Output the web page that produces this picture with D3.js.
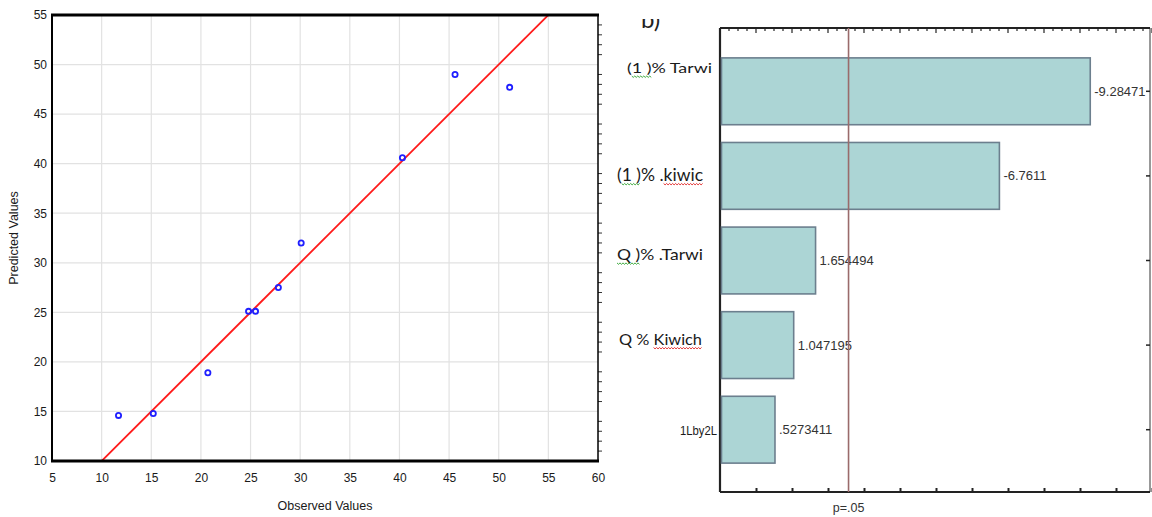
<!DOCTYPE html>
<html>
<head>
<meta charset="utf-8">
<script src="https://cdn.jsdelivr.net/npm/d3@7"></script>
<style>
  html, body { margin: 0; padding: 0; background: #fff; }
  svg { display: block; }
</style>
</head>
<body>
<svg id="chart" width="1152" height="517"></svg>
<script>
// ---------- data: left panel (observed vs predicted) ----------
const observedValues  = [11.7, 15.2, 20.7, 24.8, 25.5, 27.8, 30.1, 40.3, 45.6, 51.1];
const predictedValues = [14.6, 14.8, 18.9, 25.1, 25.1, 27.5, 32.0, 40.6, 49.0, 47.7];
const xTickValues = [5, 10, 15, 20, 25, 30, 35, 40, 45, 50, 55, 60];
const yTickValues = [10, 15, 20, 25, 30, 35, 40, 45, 50, 55];
const identityLine = [5, 60];   // predicted = observed

// ---------- data: right panel (Pareto of standardized effects) ----------
const effectNames  = ["(1 )% Tarwi", "(1 )% .kiwic", "Q )% .Tarwi", "Q % Kiwich", "1Lby2L"];
const effectValues = [-9.28471, -6.7611, 1.654494, 1.047195, 0.5273411];
const effectText   = ["-9.28471", "-6.7611", "1.654494", "1.047195", ".5273411"];
const pCritical = 2.5706;
const pLabel = "p=.05";
const effectTicks = [0, 1, 2, 3, 4, 5, 6, 7, 8, 9, 10, 11];

const svg = d3.select("#chart");

// ================= LEFT PANEL =================
const L = { left: 52, right: 598, top: 15, bottom: 461 };
const x = d3.scaleLinear().domain([5, 60]).range([L.left, L.right]);
const y = d3.scaleLinear().domain([10, 55]).range([L.bottom, L.top]);

const gl = svg.append("g");
// grid
gl.append("g").selectAll("line").data(xTickValues.slice(1, -1)).join("line")
  .attr("x1", d => x(d)).attr("x2", d => x(d))
  .attr("y1", L.top).attr("y2", L.bottom)
  .attr("stroke", "#e2e2e2").attr("stroke-width", 1.2);
gl.append("g").selectAll("line").data(yTickValues.slice(1, -1)).join("line")
  .attr("y1", d => y(d)).attr("y2", d => y(d))
  .attr("x1", L.left).attr("x2", L.right)
  .attr("stroke", "#e2e2e2").attr("stroke-width", 1.2);

// right-side minor ticks
const minorY = d3.range(11, 55).filter(v => v % 5 !== 0);
gl.append("g").selectAll("line").data(minorY).join("line")
  .attr("x1", L.right).attr("x2", L.right + 4)
  .attr("y1", d => y(d)).attr("y2", d => y(d))
  .attr("stroke", "#333").attr("stroke-width", 1);

// axes via d3
const xAxis = d3.axisBottom(x).tickValues(xTickValues).tickSize(0).tickPadding(12);
const gx = gl.append("g").attr("transform", `translate(0,${L.bottom})`).call(xAxis);
gx.select(".domain").remove();
gx.selectAll("text").attr("font-family", "Liberation Sans, Arial, sans-serif")
  .attr("font-size", 12).attr("fill", "#1a1a1a");

const yAxis = d3.axisLeft(y).tickValues(yTickValues).tickSize(0).tickPadding(5);
const gy = gl.append("g").attr("transform", `translate(${L.left},0)`).call(yAxis);
gy.select(".domain").remove();
gy.selectAll("text").attr("font-family", "Liberation Sans, Arial, sans-serif")
  .attr("font-size", 12).attr("fill", "#1a1a1a");

// clip for line
svg.append("clipPath").attr("id", "clipL").append("rect")
  .attr("x", L.left).attr("y", L.top).attr("width", L.right - L.left).attr("height", L.bottom - L.top);

gl.append("path")
  .datum(identityLine)
  .attr("clip-path", "url(#clipL)")
  .attr("d", d3.line().x(d => x(d)).y(d => y(d)))
  .attr("stroke", "#ff1a1a").attr("stroke-width", 1.8).attr("fill", "none");

// points
gl.append("g").selectAll("circle").data(observedValues).join("circle")
  .attr("cx", d => x(d)).attr("cy", (d, i) => y(predictedValues[i]))
  .attr("r", 2.6).attr("fill", "none").attr("stroke", "#1f1fff").attr("stroke-width", 1.8);

// frame
gl.append("line").attr("x1", L.left - 1).attr("x2", L.right + 1).attr("y1", L.top).attr("y2", L.top)
  .attr("stroke", "#000").attr("stroke-width", 3);
gl.append("line").attr("x1", L.left - 1).attr("x2", L.right + 1).attr("y1", L.bottom).attr("y2", L.bottom)
  .attr("stroke", "#000").attr("stroke-width", 3);
gl.append("line").attr("x1", L.left).attr("x2", L.left).attr("y1", L.top).attr("y2", L.bottom)
  .attr("stroke", "#000").attr("stroke-width", 2);
gl.append("line").attr("x1", L.right).attr("x2", L.right).attr("y1", L.top).attr("y2", L.bottom)
  .attr("stroke", "#000").attr("stroke-width", 1.5);

// titles
gl.append("text").attr("x", (L.left + L.right) / 2).attr("y", 510)
  .attr("text-anchor", "middle").attr("font-family", "Liberation Sans, Arial, sans-serif")
  .attr("font-size", 12.5).attr("fill", "#1a1a1a").text("Observed Values");
gl.append("text").attr("transform", `translate(18,${(L.top + L.bottom) / 2}) rotate(-90)`)
  .attr("text-anchor", "middle").attr("font-family", "Liberation Sans, Arial, sans-serif")
  .attr("font-size", 12.5).attr("fill", "#1a1a1a").text("Predicted Values");

// ================= RIGHT PANEL =================
const R = { left: 720, right: 1150, top: 28, bottom: 492 };
const xr = d3.scaleLinear().domain([-1, 11]).range([720, 1152]);
const yr = d3.scaleBand().domain(effectNames).range([49, 472]).paddingInner(0.21).paddingOuter(0.105);

const gr = svg.append("g");

// "b)" fragment (only its lower part is visible)
svg.append("clipPath").attr("id", "clipB").append("rect")
  .attr("x", 620).attr("y", 19).attr("width", 80).attr("height", 20);
gr.append("text").attr("clip-path", "url(#clipB)")
  .attr("x", 641).attr("y", 28).attr("font-family", "Lato, Open Sans, sans-serif")
  .attr("font-size", 24).attr("fill", "#222").text("b)");

// left axis line
gr.append("line").attr("x1", R.left).attr("x2", R.left).attr("y1", R.top).attr("y2", R.bottom)
  .attr("stroke", "#222").attr("stroke-width", 2.2);
// right border
gr.append("line").attr("x1", R.right).attr("x2", R.right).attr("y1", R.top).attr("y2", R.bottom)
  .attr("stroke", "#333").attr("stroke-width", 1);
// top axis
gr.append("line").attr("x1", R.left).attr("x2", R.right).attr("y1", R.top).attr("y2", R.top)
  .attr("stroke", "#222").attr("stroke-width", 2);
const topMinor = d3.range(-0.75, 11.01, 0.25);
gr.append("g").selectAll("line").data(topMinor).join("line")
  .attr("x1", d => xr(d)).attr("x2", d => xr(d))
  .attr("y1", R.top).attr("y2", d => Math.abs(d - Math.round(d)) < 1e-6 ? R.top + 5 : R.top + 3)
  .attr("stroke", "#222").attr("stroke-width", 1.2);

// bottom axis
const xAxisR = d3.axisTop(xr).tickValues(effectTicks).tickSize(4).tickFormat("");
const gbx = gr.append("g").attr("transform", `translate(0,${R.bottom})`).call(xAxisR);
gbx.select(".domain").attr("d", `M${R.left},0H${R.right}`).attr("stroke", "#222").attr("stroke-width", 2);
gbx.selectAll(".tick line").attr("stroke", "#222").attr("stroke-width", 2);

// bars
gr.append("g").selectAll("rect").data(effectValues).join("rect")
  .attr("x", xr(-1) + 1.5)
  .attr("y", (d, i) => yr(effectNames[i]))
  .attr("width", d => xr(Math.abs(d)) - xr(-1) - 1.5)
  .attr("height", yr.bandwidth())
  .attr("fill", "#acd5d5").attr("stroke", "#6c7f8e").attr("stroke-width", 1.6);

// small ticks on right border (bar centres)
gr.append("g").selectAll("line").data(effectNames).join("line")
  .attr("x1", R.right - 4).attr("x2", R.right)
  .attr("y1", d => yr(d) + yr.bandwidth() / 2).attr("y2", d => yr(d) + yr.bandwidth() / 2)
  .attr("stroke", "#222").attr("stroke-width", 1.5);

// value labels
gr.append("g").selectAll("text").data(effectValues).join("text")
  .attr("x", d => xr(Math.abs(d)) + 4)
  .attr("y", (d, i) => yr(effectNames[i]) + yr.bandwidth() / 2)
  .attr("dy", "0.35em")
  .attr("font-family", "Liberation Sans Narrow, Arial Narrow, Liberation Sans, sans-serif")
  .attr("font-size", 13).attr("fill", "#333")
  .text((d, i) => effectText[i]);

// p line
gr.append("line").attr("x1", xr(pCritical)).attr("x2", xr(pCritical))
  .attr("y1", R.top).attr("y2", R.bottom)
  .attr("stroke", "#9a6b6b").attr("stroke-width", 1.6);
gr.append("text").attr("x", xr(pCritical)).attr("y", 512).attr("text-anchor", "middle")
  .attr("font-family", "Liberation Sans Narrow, Arial Narrow, Liberation Sans, sans-serif")
  .attr("font-size", 12.5).attr("fill", "#333").text(pLabel);

// category labels (pasted-style text)
const labelLayout = [
  { x: 627, dy: -23, size: 14, width: 85, font: "Lato, Open Sans, sans-serif", sq: [[1, 3, "#2aa02a"]] },
  { x: 617, dy: -1, size: 16.5, width: 86, font: "Lato, Open Sans, sans-serif", sq: [[1, 3, "#2aa02a"], [7, 11, "#e02020"]] },
  { x: 617, dy: -6, size: 16, width: 86, font: "Lato, Open Sans, sans-serif", sq: [[0, 2, "#2aa02a"]] },
  { x: 619, dy: -6, size: 16, width: 83, font: "Lato, Open Sans, sans-serif", sq: [[4, 9, "#e02020"]] },
  { x: 717, dy: 1, size: 12, width: 37, font: "Liberation Sans Narrow, Arial Narrow, Liberation Sans, sans-serif", anchor: "end", sq: [] }
];
effectNames.forEach((name, i) => {
  const lay = labelLayout[i];
  const cy = yr(name) + yr.bandwidth() / 2 + lay.dy;
  const t = gr.append("text")
    .attr("x", lay.x).attr("y", cy).attr("dy", "0.35em")
    .attr("text-anchor", lay.anchor || "start")
    .attr("font-family", lay.font).attr("font-size", lay.size).attr("fill", "#1a1a1a")
    .attr("textLength", lay.width).attr("lengthAdjust", "spacingAndGlyphs")
    .text(name);
  const node = t.node();
  lay.sq.forEach(([a, b, col]) => {
    try {
      const x0 = node.getStartPositionOfChar(a).x;
      const x1 = node.getEndPositionOfChar(b).x;
      const by = node.getStartPositionOfChar(a).y + 3;
      const pts = [];
      for (let xx = x0, k = 0; xx <= x1; xx += 1.5, k++) pts.push([xx, by + (k % 2 ? 1.2 : -0.2)]);
      gr.append("path").attr("d", d3.line()(pts)).attr("stroke", col)
        .attr("stroke-width", 0.9).attr("fill", "none");
    } catch (e) {}
  });
});
</script>
</body>
</html>
